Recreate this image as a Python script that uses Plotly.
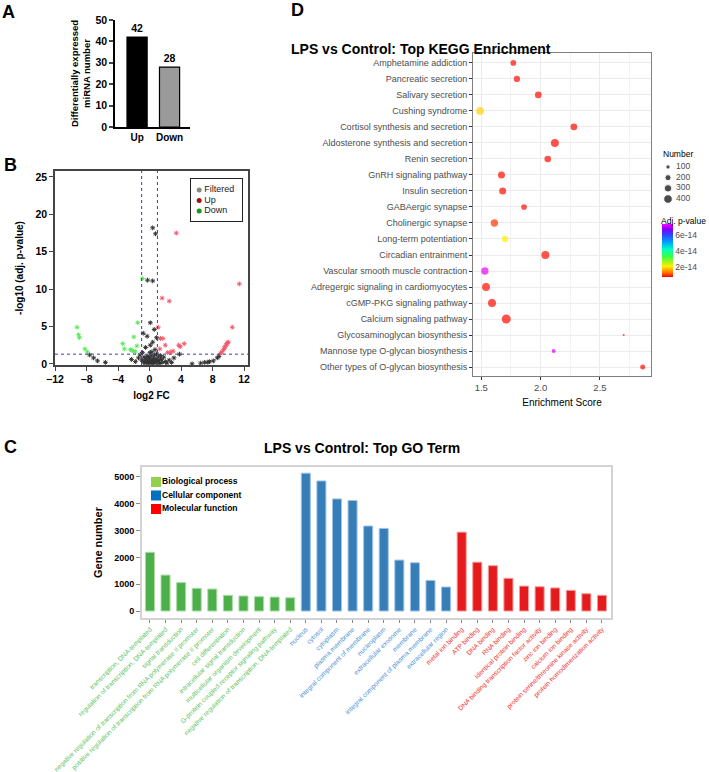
import plotly.graph_objects as go

W, H = 709, 772
FONT = "Arial, Liberation Sans, sans-serif"

# ---------------- Panel A: DE miRNA counts ----------------
a_groups = ["Up", "Down"]
a_counts = [42, 28]
a_colors = ["#000000", "#9a9a9a"]

# ---------------- Panel B: volcano ----------------
b_filt_x = [0.4, 0.76, -0.25, 0.4, 0.1, -0.8, -0.3, 0.4, 0.1, 0.9, 0.6, -0.5, 0.7, 0.3,
            -7.6, -7.1, -6.6, -5.6, 3.8, 5.4, 6.5, 7.0, 7.4, 7.6, 8.1, 8.6, 8.8,
            -1.4, -1.2, -1.0, -0.8, -0.7, -0.6, -0.5, -0.4, -0.3, -0.2, -0.1, 0.0, 0.1,
            0.2, 0.3, 0.4, 0.5, 0.6, 0.7, 0.8, 0.9, 1.0, 1.1, 1.2, 1.3, 1.5, 1.6, 1.8,
            2.0, 2.2, 2.5, 2.8, 3.1, -1.8, -2.3, 0.05, -0.15, 0.45, 0.65, 1.05, -0.9, 1.4]
b_filt_y = [18.2, 17.4, 11.2, 11.1, 5.5, 4.1, 3.7, 2.9, 2.5, 3.5, 4.6, 2.2, 1.9, 1.6,
            1.2, 0.8, 0.4, 0.2, 1.3, 0.0, 0.1, 0.2, 0.2, 0.3, 0.4, 0.8, 1.0,
            0.8, 1.2, 0.5, 0.3, 0.9, 0.1, 0.6, 0.2, 1.0, 0.4, 0.05, 0.7, 0.2,
            1.1, 0.4, 0.05, 0.8, 0.3, 0.1, 0.6, 1.3, 0.2, 0.9, 0.4, 0.05, 0.6, 0.2, 0.9,
            0.3, 0.1, 0.5, 0.2, 0.8, 0.3, 0.6, 1.5, 0.9, 0.55, 1.2, 0.45, 1.5, 1.1]
b_up_x = [3.4, 11.4, 1.6, 2.5, 1.1, 1.4, 1.7, 2.0, 2.7, 3.0, 3.7, 4.4, 3.9,
          9.0, 9.2, 9.4, 9.5, 9.6, 9.7, 9.8, 9.9, 10.0, 10.5, 1.3, 2.3]
b_up_y = [17.5, 10.7, 8.8, 8.4, 4.9, 3.4, 3.4, 2.5, 1.6, 1.7, 2.5, 2.7, 2.3,
          1.4, 1.6, 1.9, 2.1, 2.3, 2.5, 2.7, 2.8, 2.9, 4.9, 2.0, 1.5]
b_down_x = [-9.2, -9.0, -8.9, -8.2, -7.9, -3.4, -3.2, -2.0, -2.4, -1.6, -1.5, -2.0,
            -0.9, -2.2, -1.8]
b_down_y = [4.9, 3.9, 3.5, 2.0, 1.6, 2.7, 2.0, 3.6, 1.9, 2.4, 5.5, 1.7, 11.4, 1.8, 1.6]
b_fc_cuts = [-1, 1]
b_p_cut = 1.3
b_legend = ["Filtered", "Up", "Down"]
b_legend_colors = ["#888888", "#a01010", "#109a10"]

# ---------------- Panel D: KEGG dot plot ----------------
kegg_terms = [
    "Amphetamine addiction", "Pancreatic secretion", "Salivary secretion",
    "Cushing syndrome", "Cortisol synthesis and secretion",
    "Aldosterone synthesis and secretion", "Renin secretion",
    "GnRH signaling pathway", "Insulin secretion", "GABAergic synapse",
    "Cholinergic synapse", "Long-term potentiation", "Circadian entrainment",
    "Vascular smooth muscle contraction", "Adregergic signaling in cardiomyocytes",
    "cGMP-PKG signaling pathway", "Calcium signaling pathway",
    "Glycosaminoglycan biosynthesis", "Mannose type O-glycan biosynthesis",
    "Other types of O-glycan biosynthesis",
]
kegg_score = [1.77, 1.80, 1.98, 1.49, 2.28, 2.12, 2.06, 1.67, 1.68, 1.86,
              1.61, 1.70, 2.04, 1.53, 1.54, 1.59, 1.71, 2.70, 2.11, 2.86]
kegg_number = [175, 215, 240, 320, 240, 345, 240, 265, 265, 175,
               290, 215, 345, 290, 345, 345, 440, 22, 86, 135]
kegg_padj = [0.8e-14, 0.8e-14, 0.8e-14, 1.9e-14, 0.8e-14, 0.8e-14, 0.8e-14, 0.8e-14,
             0.8e-14, 0.8e-14, 1.0e-14, 2.1e-14, 0.8e-14, 7.3e-14, 0.8e-14, 0.8e-14,
             0.8e-14, 0.8e-14, 7.2e-14, 0.8e-14]
size_legend = [100, 200, 300, 400]
p_ticks = [2e-14, 4e-14, 6e-14]

# ---------------- Panel C: GO terms ----------------
go_bp_terms = [
    "transcription, DNA-templated", "regulation of transcription, DNA-templated",
    "signal transduction",
    "negative regulation of transcription from RNA polymerase II promoter",
    "positive regulation of transcription from RNA polymerase II promoter",
    "cell differentiation", "intracellular signal transduction",
    "multicellular organism development", "G-protein coupled receptor signaling pathway",
    "negative regulation of transcription, DNA-templated",
]
go_bp_counts = [2190, 1340, 1060, 845, 820, 585, 560, 535, 520, 495]
go_cc_terms = [
    "nucleus", "cytosol", "cytoplasm", "plasma membrane",
    "integral component of membrane", "nucleoplasm", "extracellular exosome",
    "membrane", "integral component of plasma membrane", "extracellular region",
]
go_cc_counts = [5140, 4850, 4180, 4120, 3170, 3080, 1900, 1800, 1140, 895]
go_mf_terms = [
    "metal ion binding", "ATP binding", "DNA binding", "RNA binding",
    "identical protein binding", "DNA binding transcription factor activity",
    "zinc ion binding", "calcium ion binding",
    "protein serine/threonine kinase activity", "protein homodimerization activity",
]
go_mf_counts = [2940, 1820, 1690, 1220, 930, 905, 860, 770, 645, 585]
go_legend = ["Biological process", "Cellular component", "Molecular function"]
go_legend_colors = ["#92d050", "#0070c0", "#ff0000"]


def dx(left, right):
    return [left / W, right / W]


def dy(top, bottom):
    return [1 - bottom / H, 1 - top / H]


SIZEREF = 10.8
fig = go.Figure()

# A
fig.add_trace(go.Bar(
    x=a_groups, y=a_counts, marker=dict(color=a_colors, line=dict(color="black", width=1.2)),
    width=0.62, texttemplate="<b>%{y}</b>", textposition="outside",
    textfont=dict(size=10.5, color="black"), cliponaxis=False,
    xaxis="x", yaxis="y", showlegend=False,
))

# B
for xs, ys, col in [(b_filt_x, b_filt_y, "#333333"), (b_up_x, b_up_y, "#f25b6b"),
                    (b_down_x, b_down_y, "#5ee85e")]:
    fig.add_trace(go.Scatter(
        x=xs, y=ys, mode="markers", xaxis="x2", yaxis="y2", showlegend=False,
        marker=dict(symbol="asterisk-open", size=4, color=col, line=dict(color=col, width=1)),
        cliponaxis=False,
    ))
fig.add_trace(go.Scatter(
    x=[0] * 3, y=b_legend, mode="markers", xaxis="x5", yaxis="y5", showlegend=False,
    marker=dict(size=5, color=b_legend_colors),
))
fig.add_trace(go.Scatter(
    x=[0.5] * 3, y=b_legend, mode="text", text=b_legend, textposition="middle right",
    textfont=dict(size=9, color="#222"), xaxis="x5", yaxis="y5", showlegend=False,
))

# D
fig.add_trace(go.Scatter(
    x=kegg_score, y=kegg_terms, mode="markers", xaxis="x3", yaxis="y3", showlegend=False,
    marker=dict(
        size=kegg_number, sizemode="area", sizeref=SIZEREF, color=kegg_padj,
        cmin=0.75e-14, cmax=7.4e-14, line=dict(width=0),
        colorscale=[[0.0, "#ff0000"], [0.08, "#ff7000"], [0.2, "#ffee00"],
                    [0.38, "#40ff40"], [0.52, "#00ffc0"], [0.66, "#00a0ff"],
                    [0.8, "#3040ff"], [0.9, "#8000ff"], [1.0, "#ff00ff"]],
        colorbar=dict(
            x=662 / W, xanchor="left", y=1 - 250.5 / H, yanchor="middle",
            len=53 / H, lenmode="fraction", thickness=11, outlinewidth=0,
            xpad=0, ypad=0, ticks="", tickvals=p_ticks,
            ticktext=[f"{v / 1e-14:.0f}e-14" for v in p_ticks],
            tickfont=dict(size=8.5, color="#4d4d4d", family=FONT),
        ),
    ),
))
fig.add_trace(go.Scatter(
    x=[0] * 4, y=[str(v) for v in size_legend], mode="markers", xaxis="x6", yaxis="y6",
    showlegend=False,
    marker=dict(size=size_legend, sizemode="area", sizeref=SIZEREF, color="black"),
))
fig.add_trace(go.Scatter(
    x=[1.0] * 4, y=[str(v) for v in size_legend], mode="text",
    text=[str(v) for v in size_legend], textposition="middle right",
    textfont=dict(size=8.5, color="#4d4d4d"), xaxis="x6", yaxis="y6", showlegend=False,
))

# C
for terms, counts, col, edge in [(go_bp_terms, go_bp_counts, "#4daf4a", "#a8dca6"),
                                 (go_cc_terms, go_cc_counts, "#377eb8", "#9fc3e4"),
                                 (go_mf_terms, go_mf_counts, "#e41a1c", "#f59a9b")]:
    fig.add_trace(go.Bar(
        x=terms, y=counts, width=0.58, xaxis="x4", yaxis="y4", showlegend=False,
        marker=dict(color=col, line=dict(color=edge, width=1)),
    ))
fig.add_trace(go.Scatter(
    x=[0] * 3, y=go_legend, mode="markers", xaxis="x7", yaxis="y7", showlegend=False,
    marker=dict(symbol="square", size=10, color=go_legend_colors),
))
fig.add_trace(go.Scatter(
    x=[0.6] * 3, y=go_legend, mode="text", text=go_legend, textposition="middle right",
    textfont=dict(size=8.5, color="black", weight="bold"), xaxis="x7", yaxis="y7",
    showlegend=False,
))

all_terms = go_bp_terms + go_cc_terms + go_mf_terms
tick_cols = ["#5cbf5c"] * 10 + ["#4a8fd4"] * 10 + ["#f03030"] * 10
go_ticktext = [f'<span style="color:{c}">{t}</span>' for t, c in zip(all_terms, tick_cols)]

# dashed threshold lines in B
shapes = []
for v in b_fc_cuts:
    shapes.append(dict(type="line", xref="x2", yref="y2 domain", x0=v, x1=v, y0=0, y1=1,
                       line=dict(color="#3c3cb0", width=1, dash="dot")))
shapes.append(dict(type="line", xref="x2 domain", yref="y2", x0=0, x1=1,
                   y0=b_p_cut, y1=b_p_cut, line=dict(color="#3c3cb0", width=1, dash="dot")))

hidden = dict(showline=False, showticklabels=False, ticks="", showgrid=False,
              zeroline=False, fixedrange=True)
boldfont = dict(family=FONT, color="black", weight="bold")

fig.update_layout(
    width=W, height=H, margin=dict(l=0, r=0, t=0, b=0, autoexpand=False),
    paper_bgcolor="white", plot_bgcolor="white", barmode="overlay",
    font=dict(family=FONT, color="black"), shapes=shapes,
    # A
    xaxis=dict(domain=dx(115, 190), anchor="y", range=[-0.68, 1.63], showline=True,
               linecolor="black", linewidth=1.5, ticks="", showgrid=False,
               tickfont=dict(size=10, **boldfont)),
    yaxis=dict(domain=dy(20, 127), anchor="x", range=[0, 50], dtick=10, showline=True,
               linecolor="black", linewidth=1.5, ticks="outside", ticklen=4, tickwidth=1.5,
               showgrid=False, zeroline=False, tickfont=dict(size=10.5, **boldfont),
               title=dict(text="Differentially expressed<br>miRNA number", standoff=3,
                          font=dict(size=9.5, **boldfont))),
    # B
    xaxis2=dict(domain=dx(55, 248), anchor="y2", range=[-12, 12.5], tick0=-12, dtick=4,
                showline=True, mirror=True, linecolor="#444", linewidth=1.5,
                ticks="outside", ticklen=4, showgrid=False, zeroline=False,
                tickfont=dict(size=10.5, **boldfont),
                title=dict(text="log2 FC", standoff=8, font=dict(size=10, **boldfont))),
    yaxis2=dict(domain=dy(171, 365), anchor="x2", range=[-0.15, 25.8], dtick=5,
                showline=True, mirror=True, linecolor="#444", linewidth=1.5,
                ticks="outside", ticklen=4, showgrid=False, zeroline=False,
                tickfont=dict(size=10.5, **boldfont),
                title=dict(text="-log10 (adj. p-value)", standoff=10,
                           font=dict(size=10, **boldfont))),
    xaxis5=dict(domain=dx(191, 242), anchor="y5", range=[-0.8, 4.2], **{**hidden,
                "showline": True, "mirror": True}, linecolor="#222", linewidth=1),
    yaxis5=dict(domain=dy(179, 221), anchor="x5", range=[2.95, -1.05], type="category",
                **{**hidden, "showline": True, "mirror": True}, linecolor="#222", linewidth=1),
    # D
    xaxis3=dict(domain=dx(473, 651), anchor="y3", range=[1.43, 2.93], tick0=1.5, dtick=0.5,
                tickformat=".1f", showline=True, mirror=True, linecolor="#7f7f7f",
                linewidth=1, ticks="outside", ticklen=3, tickcolor="#333",
                showgrid=True, gridcolor="#ebebeb", gridwidth=1, zeroline=False,
                minor=dict(tick0=1.5, dtick=0.25, showgrid=True, gridcolor="#f2f2f2",
                           gridwidth=0.6),
                tickfont=dict(size=9.5, color="#4d4d4d"),
                title=dict(text="Enrichment Score", standoff=6, font=dict(size=10))),
    yaxis3=dict(domain=dy(53, 376), anchor="x3", type="category", categoryorder="array",
                categoryarray=kegg_terms, range=[19.56, -0.62], showline=True,
                mirror=True, linecolor="#7f7f7f", linewidth=1, ticks="outside",
                ticklen=3, tickcolor="#333", showgrid=True, gridcolor="#ebebeb",
                tickfont=dict(size=9, color="#4d4d4d")),
    xaxis6=dict(domain=dx(660, 700), anchor="y6", range=[-1, 4], **hidden),
    yaxis6=dict(domain=dy(161, 205), anchor="x6", range=[3.56, -0.56], type="category",
                **hidden),
    # C
    xaxis4=dict(domain=dx(142, 611), anchor="y4", type="category", categoryorder="array",
                categoryarray=all_terms, range=[-0.51, 29.58], tickvals=all_terms,
                ticktext=go_ticktext, tickangle=-45, tickfont=dict(size=6.6),
                showline=True, mirror=True, linecolor="#d3d3d3", linewidth=2,
                ticks="outside", ticklen=3, tickcolor="#888", showgrid=False),
    yaxis4=dict(domain=dy(467, 618), anchor="x4", range=[-260, 5370], tick0=0, dtick=1000,
                showline=True, mirror=True, linecolor="#d3d3d3", linewidth=2,
                ticks="outside", ticklen=4, tickcolor="#888", showgrid=False,
                zeroline=False, tickfont=dict(size=9, **boldfont),
                title=dict(text="Gene number", standoff=9, font=dict(size=11, **boldfont))),
    xaxis7=dict(domain=dx(148, 290), anchor="y7", range=[-0.8, 13.4], **hidden),
    yaxis7=dict(domain=dy(474, 516), anchor="x7", range=[2.52, -0.59], type="category",
                **hidden),
)
fig.update_xaxes(automargin=False)
fig.update_yaxes(automargin=False)

letters = [("A", 8, 11.5), ("B", 10, 165), ("C", 10, 447), ("D", 297, 10)]
for txt, px, py in letters:
    fig.add_annotation(text=f"<b>{txt}</b>", x=px / W, y=1 - py / H, xref="paper",
                       yref="paper", showarrow=False, xanchor="center", yanchor="middle",
                       font=dict(size=18, color="black"))
fig.add_annotation(text="<b>LPS vs Control: Top KEGG Enrichment</b>", x=553 / W,
                   y=1 - 39 / H, xref="paper", yref="paper", showarrow=False,
                   font=dict(size=14, color="black"))
fig.add_annotation(text="<b>LPS vs Control: Top GO Term</b>", x=362 / W, y=1 - 448 / H,
                   xref="paper", yref="paper", showarrow=False,
                   font=dict(size=14, color="black"))
fig.add_annotation(text="Number", x=662 / W, y=1 - 148 / H, xref="paper", yref="paper",
                   xanchor="left", showarrow=False, borderpad=0,
                   font=dict(size=8.5, color="black"))
fig.add_annotation(text="Adj. p-value", x=660 / W, y=1 - 215 / H, xref="paper",
                   yref="paper", xanchor="left", showarrow=False, borderpad=0,
                   font=dict(size=8.5, color="black"))

# the page is exactly the figure size, so drop the default body margin
fig.write_html("out.html", config={"displayModeBar": False},
               post_script="document.body.style.margin = '0';")
